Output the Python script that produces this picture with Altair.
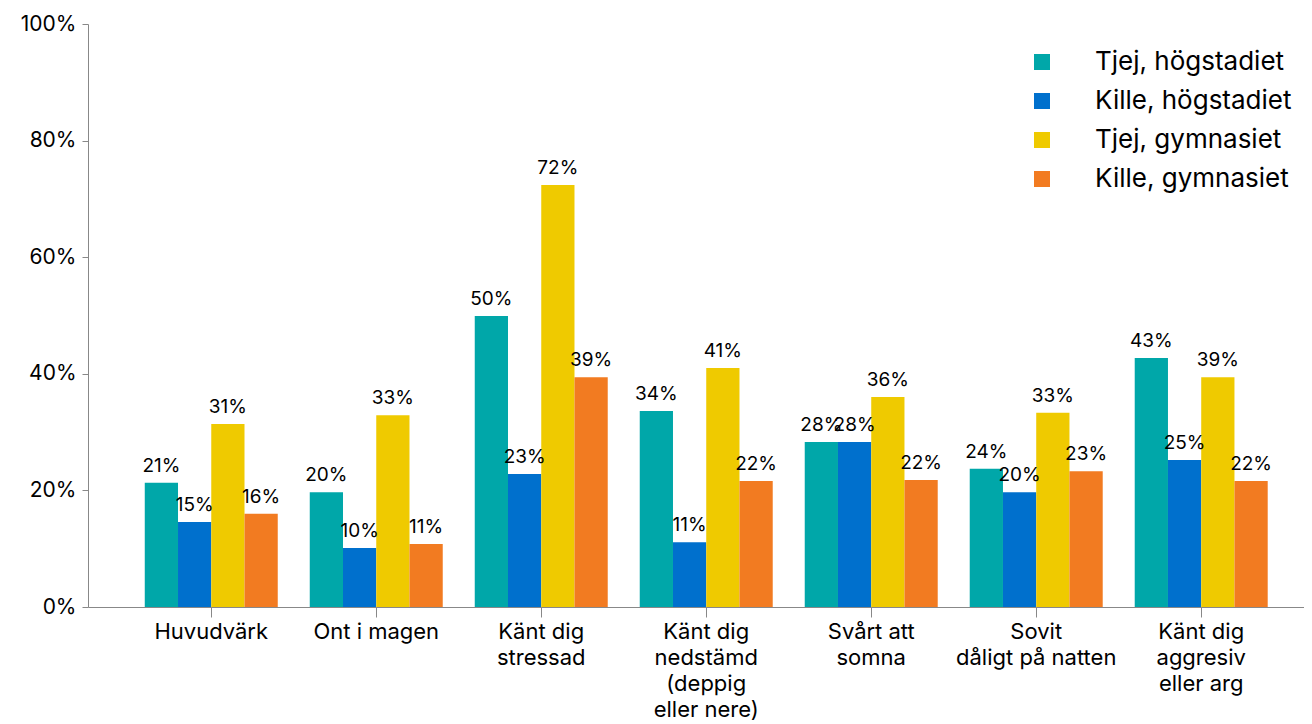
import altair as alt
import pandas as pd

categories = [
    "Huvudvärk",
    "Ont i magen",
    "Känt dig|stressad",
    "Känt dig|nedstämd|(deppig|eller nere)",
    "Svårt att|somna",
    "Sovit|dåligt på natten",
    "Känt dig|aggresiv|eller arg",
]
series = ["Tjej, högstadiet", "Kille, högstadiet", "Tjej, gymnasiet", "Kille, gymnasiet"]
colors = ["#00A7A9", "#0070CD", "#EFCA00", "#F27B21"]

tjej_hog = [0.213, 0.197, 0.499, 0.336, 0.283, 0.237, 0.427]
kille_hog = [0.146, 0.101, 0.228, 0.111, 0.283, 0.197, 0.252]
tjej_gym = [0.314, 0.329, 0.724, 0.410, 0.360, 0.333, 0.394]
kille_gym = [0.160, 0.108, 0.394, 0.216, 0.218, 0.233, 0.216]

rows = []
for s, vals in zip(series, [tjej_hog, kille_hog, tjej_gym, kille_gym]):
    for c, v in zip(categories, vals):
        rows.append({"kategori": c, "grupp": s, "andel": v})
df = pd.DataFrame(rows)

FONT = "Inter"

x = alt.X(
    "kategori:N",
    sort=categories,
    scale=alt.Scale(paddingInner=0.194, paddingOuter=0.282, align=0.61),
    axis=alt.Axis(
        title=None,
        labelAngle=0,
        labelExpr="split(datum.label, '|')",
        labelFontSize=22,
        labelFont=FONT,
        labelColor="#000000",
        labelLineHeight=26,
        labelPadding=4,
        tickSize=10,
        tickColor="#888888",
        domainColor="#888888",
        labelBaseline="top",
    ),
)
xoff = alt.XOffset("grupp:N", sort=series)

base = alt.Chart(df).encode(x=x, xOffset=xoff)

bars = base.mark_bar().encode(
    y=alt.Y(
        "andel:Q",
        scale=alt.Scale(domain=[0, 1], nice=False),
        axis=alt.Axis(
            title=None,
            values=[0, 0.2, 0.4, 0.6, 0.8, 1.0],
            format=".0%",
            grid=False,
            labelFontSize=21,
            labelFont=FONT,
            labelColor="#000000",
            tickSize=6,
            labelPadding=6,
            tickColor="#888888",
            domainColor="#888888",
            minExtent=80,
            maxExtent=80,
        ),
    ),
    color=alt.Color(
        "grupp:N",
        sort=series,
        scale=alt.Scale(domain=series, range=colors),
        legend=alt.Legend(
            title=None,
            orient="none",
            legendX=941,
            legendY=25,
            symbolType="square",
            symbolSize=256,
            symbolStrokeWidth=0,
            labelFontSize=26,
            labelFont=FONT,
            labelColor="#000000",
            labelOffset=40,
            labelLimit=400,
            rowPadding=13,
            padding=0,
        ),
    ),
)

labels = base.mark_text(
    baseline="bottom", dy=-7, fontSize=19, font=FONT, color="#000000"
).encode(
    y=alt.Y("andel:Q"),
    text=alt.Text("andel:Q", format=".0%"),
)

chart = (
    alt.layer(bars, labels)
    .properties(
        width=1216,
        height=583,
        padding={"left": 0, "top": 5, "right": 0, "bottom": 0},
    )
    .configure_view(stroke=None)
)

chart.save("out.html", embed_options={"renderer": "svg", "actions": False})
